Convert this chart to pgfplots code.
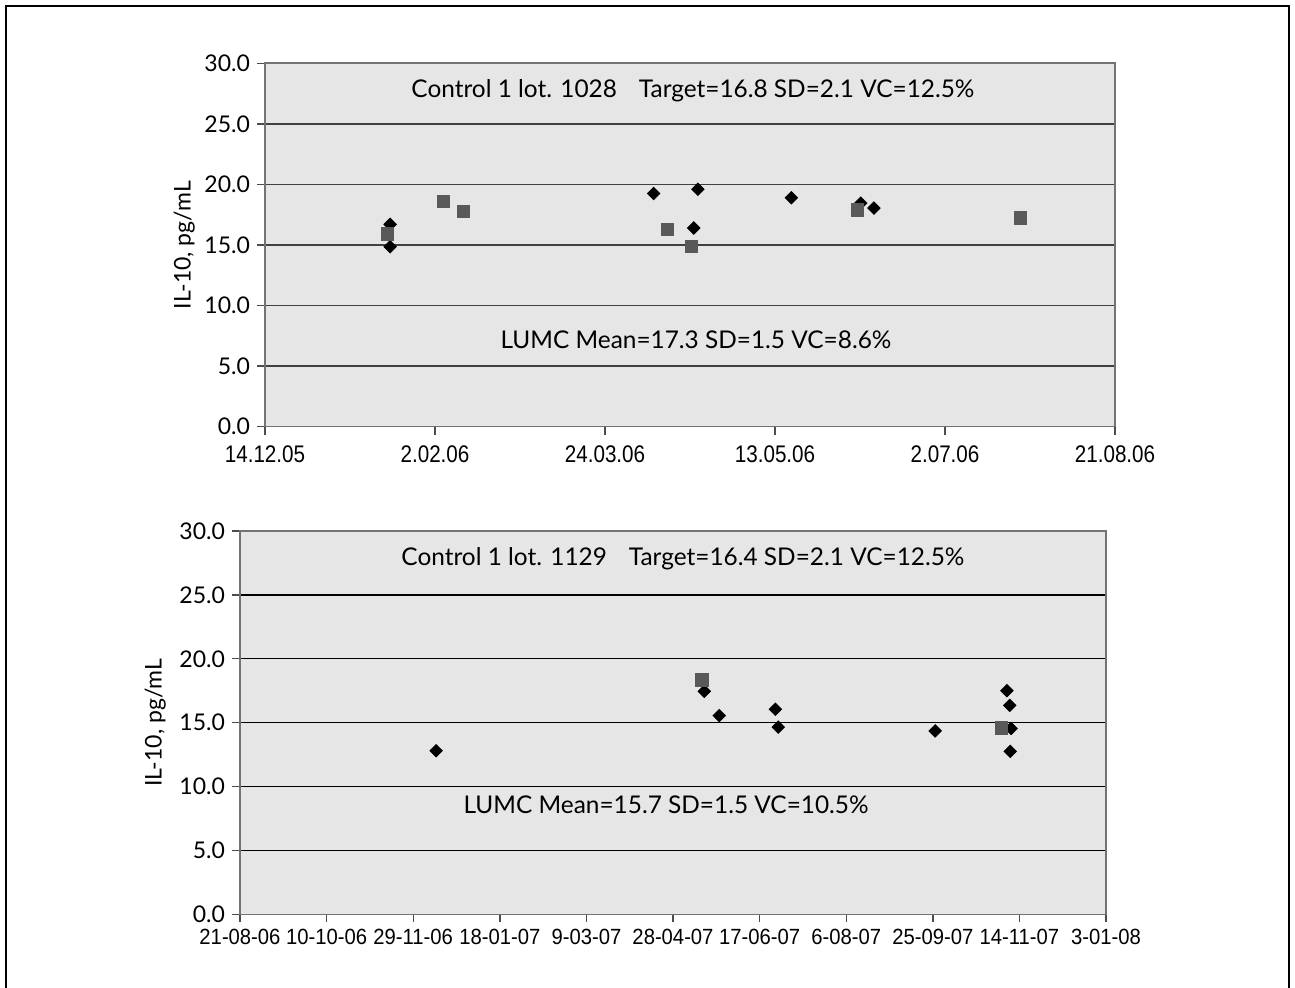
\documentclass[border=0pt]{standalone}
\usepackage{pgfplots}
\pgfplotsset{compat=1.18}
\usepackage{fontspec}
\setmainfont{Lato}
\newfontfamily\tickfont[FakeStretch=0.86]{Liberation Sans}
\newfontfamily\tickfontb[FakeStretch=0.92]{Liberation Sans}

\definecolor{plotbg}{HTML}{E6E6E6}
\definecolor{sqgray}{HTML}{595959}

\tikzset{note/.style={font=\fontsize{12.2}{14}\selectfont}}

% 1 px of the reference = 0.5pt
\pgfplotsset{
  qcstyle/.style={
    scale only axis,
    anchor=north west,
    axis background/.style={fill=plotbg},
    axis line style={black!55, line width=0.8pt},
    ymin=0, ymax=30, ytick={0,5,...,30},
    ymajorgrids,
    y grid style={line width=0.7pt},
    yticklabel style={font=\fontsize{11.5}{13}\selectfont, /pgf/number format/.cd, fixed, fixed zerofill, precision=1, assume math mode=true},
    tick style={black!70, line width=0.7pt},
    xtick align=outside, ytick align=outside,
    major tick length=4pt,
    xtick pos=bottom, ytick pos=left,
    ylabel={IL-10, pg/mL},
    ylabel style={font=\fontsize{11.5}{13}\selectfont},
    clip=false,
  },
  dia/.style={only marks, mark=square*, mark size=2.2pt, color=black, mark options={rotate=45}},
  sq/.style={only marks, mark=square*, mark size=3.1pt, color=sqgray},
}

\begin{document}
\begin{tikzpicture}
\useasboundingbox (0,0) rectangle (647.5pt,-494pt);
\draw[line width=1pt] (3pt,-494pt) -- (3pt,-3pt) -- (644.5pt,-3pt) -- (644.5pt,-494pt);

% top panel, days counted from 14.12.05
\begin{axis}[qcstyle,
    at={(132.5pt,-31.65pt)}, width=425pt, height=181.7pt,
    xmin=0, xmax=250, xtick={0,50,...,250},
    xticklabels={14.12.05, 2.02.06, 24.03.06, 13.05.06, 2.07.06, 21.08.06},
    xticklabel style={font=\tickfont\fontsize{12}{14}\selectfont, yshift=-2pt},
    y grid style={black!75, line width=0.7pt},
    ylabel style={yshift=-2pt},
]
\addplot[dia] coordinates {
  (36.8,16.7) (36.8,14.85) (114.3,19.25) (127.3,19.6)
  (126.1,16.4) (154.8,18.9) (175.2,18.45) (179.1,18.05)
};
\addplot[sq] coordinates {
  (36.0,15.9) (52.4,18.6) (58.3,17.75) (118.3,16.3)
  (125.4,14.9) (174.2,17.9) (222.1,17.25)
};
\node[note] at (rel axis cs:0.5035,0.924)
  {Control 1 lot. 1028\hspace{0.9em}Target=16.8 SD=2.1 VC=12.5\%};
\node[note] at (rel axis cs:0.507,0.239)
  {LUMC Mean=17.3 SD=1.5 VC=8.6\%};
\end{axis}

% bottom panel, days counted from 21-08-06
\begin{axis}[qcstyle,
    at={(120pt,-265.5pt)}, width=433pt, height=191.65pt,
    xmin=0, xmax=500, xtick={0,50,...,500},
    xticklabels={21-08-06, 10-10-06, 29-11-06, 18-01-07, 9-03-07, 28-04-07, 17-06-07, 6-08-07, 25-09-07, 14-11-07, 3-01-08},
    xticklabel style={font=\tickfontb\fontsize{11}{13}\selectfont},
    y grid style={black, line width=0.7pt},
]
\addplot[dia] coordinates {
  (113.2,12.8) (268.1,17.45) (276.7,15.55) (309.1,16.05) (310.8,14.65)
  (401.4,14.35) (442.8,17.5) (444.4,16.35) (445.2,14.55) (444.7,12.75)
};
\addplot[sq] coordinates {
  (266.7,18.35) (439.5,14.6)
};
\node[note] at (rel axis cs:0.5115,0.927)
  {Control 1 lot. 1129\hspace{0.9em}Target=16.4 SD=2.1 VC=12.5\%};
\node[note] at (rel axis cs:0.492,0.285)
  {LUMC Mean=15.7 SD=1.5 VC=10.5\%};
\end{axis}
\end{tikzpicture}
\end{document}
